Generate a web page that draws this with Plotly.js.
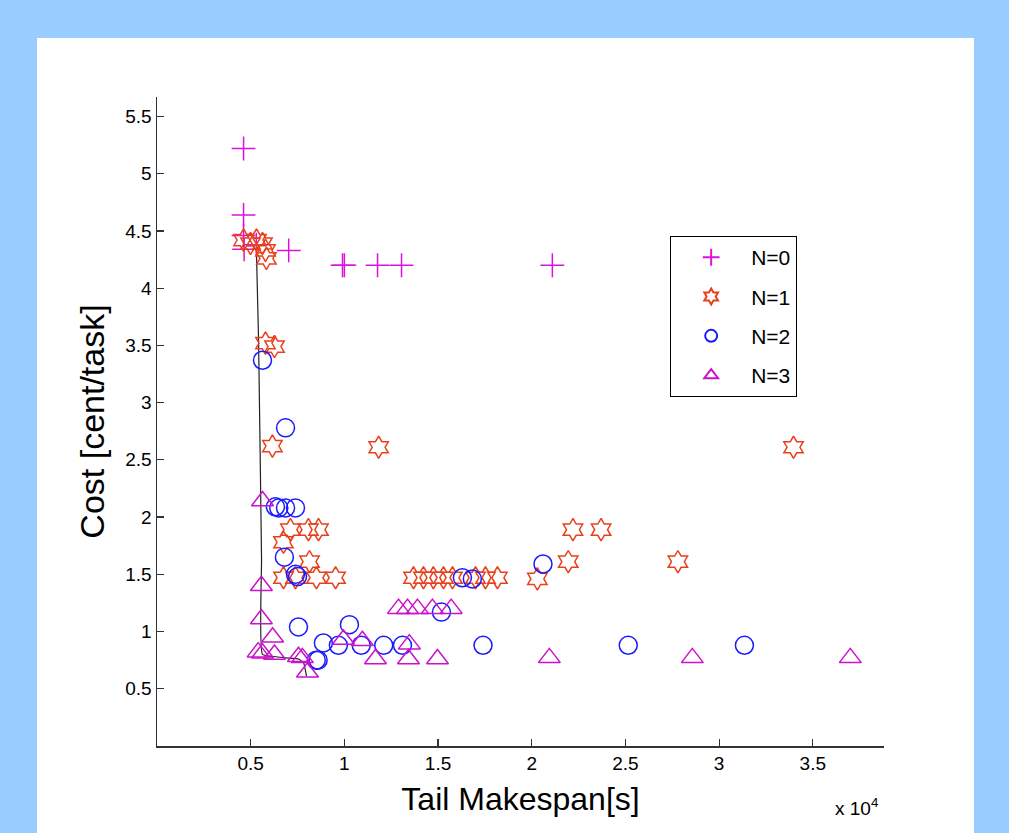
<!DOCTYPE html>
<html>
<head>
<meta charset="utf-8">
<script src="https://cdn.plot.ly/plotly-3.0.1.min.js"></script>
<style>html,body{margin:0;padding:0;background:#99ccff;}#chart{width:1009px;height:833px;}</style>
</head>
<body>
<div id="chart"></div>
<script>
// Tail makespan [s] and cost [cent/task] per series
const n0_x = [4620, 4620, 4620, 4650, 5300, 7030, 9900, 10000, 11770, 13050, 21100];
const n0_y = [5.22, 4.64, 4.46, 4.34, 4.38, 4.33, 4.20, 4.20, 4.20, 4.20, 4.20];

const n1_x = [4620, 4990, 5310, 5630, 5790, 5840, 5790, 6270, 6160, 11830,
              7120, 8080, 8620, 6750, 8140, 6750, 7390, 8510, 9530,
              13690, 14220, 14750, 15290, 15770, 17000, 17530, 18170, 20300,
              21950, 22200, 23700, 27800, 33970];
const n1_y = [4.42, 4.39, 4.42, 4.39, 4.33, 4.26, 3.52, 3.49, 2.62, 2.61,
              1.89, 1.89, 1.89, 1.78, 1.61, 1.47, 1.47, 1.47, 1.47,
              1.47, 1.47, 1.47, 1.47, 1.47, 1.47, 1.47, 1.47, 1.46,
              1.61, 1.89, 1.89, 1.61, 2.61];

const n2_x = [5630, 6860, 6320, 6500, 6860, 7390, 6800, 7390, 7500, 7550,
              8500, 8600, 8880, 9680, 10270, 10900, 12100, 13100, 15180, 16300,
              16830, 17400, 20600, 25150, 31350];
const n2_y = [3.37, 2.78, 2.09, 2.08, 2.08, 2.08, 1.65, 1.50, 1.48, 1.04,
              0.75, 0.75, 0.90, 0.88, 1.06, 0.88, 0.88, 0.88, 1.17, 1.47,
              1.46, 0.88, 1.59, 0.88, 0.88];

const n3_x = [5630, 5570, 5570, 5400, 5630, 6170, 6270, 7550, 7760, 8030,
              9950, 10960, 11660, 13470, 13420, 14970, 12890, 13370, 13900,
              14700, 15700, 20940, 28570, 37000];
const n3_y = [2.14, 1.40, 1.11, 0.82, 0.81, 0.95, 0.80, 0.78, 0.77, 0.645,
              0.93, 0.92, 0.76, 0.89, 0.76, 0.76, 1.20, 1.20, 1.20,
              1.20, 1.20, 0.77, 0.77, 0.77];

// Pareto front line
const front_x = [5310, 5420, 5580, 5630, 7550, 7820, 7980];
const front_y = [4.30, 3.55, 1.63, 0.80, 0.76, 0.73, 0.61];

const xTickVals = [5000, 10000, 15000, 20000, 25000, 30000, 35000];
const xTickText = ['0.5', '1', '1.5', '2', '2.5', '3', '3.5'];
const yTickVals = [0.5, 1, 1.5, 2, 2.5, 3, 3.5, 4, 4.5, 5, 5.5];
const yTickText = ['0.5', '1', '1.5', '2', '2.5', '3', '3.5', '4', '4.5', '5', '5.5'];
const seriesNames = ['N=0', 'N=1', 'N=2', 'N=3'];

const FONT = 'Liberation Sans, Arial, Helvetica, sans-serif';

const traces = [
  {x: front_x, y: front_y, mode: 'lines', line: {color: '#222222', width: 1.2, shape: 'spline', smoothing: 0.3}, showlegend: false, hoverinfo: 'skip'},
  {x: n0_x, y: n0_y, mode: 'markers', name: seriesNames[0], legendgroup: 'g0',
   marker: {symbol: 'cross-thin-open', size: 17, color: '#dd11dd', line: {color: '#dd11dd', width: 1.5}}},
  {x: n1_x, y: n1_y, mode: 'markers', name: seriesNames[1], legendgroup: 'g1',
   marker: {symbol: 'hexagram-open', size: 17, color: '#e8401c', line: {color: '#e8401c', width: 1.5}}},
  {x: n2_x, y: n2_y, mode: 'markers', name: seriesNames[2], legendgroup: 'g2',
   marker: {symbol: 'circle-open', size: 18, color: '#1a1aff', line: {color: '#1a1aff', width: 1.5}}},
  {x: n3_x, y: n3_y, mode: 'markers', name: seriesNames[3], legendgroup: 'g3',
   marker: {symbol: 'triangle-up-open', size: 19, color: '#cc11cc', line: {color: '#cc11cc', width: 1.5}}}
];

const layout = {
  width: 1009, height: 833,
  paper_bgcolor: '#99ccff',
  plot_bgcolor: 'rgba(0,0,0,0)',
  margin: {l: 157, r: 125, t: 97, b: 87, pad: 0},
  font: {family: FONT, color: '#000000', size: 19},
  showlegend: true,
  legend: {
    x: 0.7056, y: 0.786, xanchor: 'left', yanchor: 'top',
    bgcolor: '#ffffff', bordercolor: '#000000', borderwidth: 1.2,
    font: {family: FONT, size: 21, color: '#000000'},
    tracegroupgap: 9, itemwidth: 70, itemsizing: 'constant'
  },
  xaxis: {
    range: [0, 38800], showgrid: false, zeroline: false,
    showline: true, linecolor: '#333333', linewidth: 1.5, mirror: false,
    ticks: 'inside', ticklen: 7, tickwidth: 1.2, tickcolor: '#333333',
    tickvals: xTickVals, ticktext: xTickText,
    tickfont: {family: FONT, size: 19, color: '#000000'},
    title: {text: 'Tail Makespan[s]', font: {family: FONT, size: 32, color: '#000000'}, standoff: 14}
  },
  yaxis: {
    range: [0, 5.67], showgrid: false, zeroline: false,
    showline: true, linecolor: '#333333', linewidth: 1.5, mirror: false,
    ticks: 'inside', ticklen: 7, tickwidth: 1.2, tickcolor: '#333333',
    tickvals: yTickVals, ticktext: yTickText,
    tickfont: {family: FONT, size: 19, color: '#000000'},
    title: {text: 'Cost [cent/task]', font: {family: FONT, size: 34, color: '#000000'}, standoff: 10}
  },
  shapes: [
    {type: 'rect', xref: 'paper', yref: 'paper', layer: 'below',
     x0: (37 - 157) / 727, x1: (974 - 157) / 727, y0: (746 - 840) / 649, y1: (746 - 38) / 649,
     fillcolor: '#ffffff', line: {width: 0}}
  ],
  annotations: [
    {xref: 'paper', yref: 'paper', x: (880 - 157) / 727, y: (746 - 807) / 649, xanchor: 'right', yanchor: 'middle',
     text: 'x 10<sup>4</sup>', showarrow: false, font: {family: FONT, size: 19, color: '#000000'}}
  ]
};

Plotly.newPlot('chart', traces, layout, {displayModeBar: false, staticPlot: true});
</script>
</body>
</html>
